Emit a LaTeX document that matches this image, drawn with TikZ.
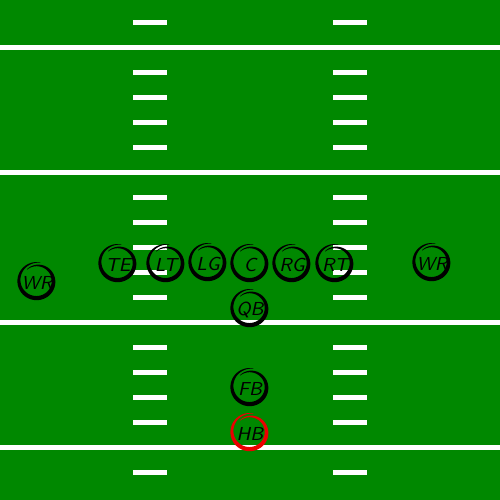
\documentclass[tikz,border=0pt]{standalone}
\usepackage{tikz}
\definecolor{fieldgreen}{RGB}{0,136,0}
\definecolor{hbred}{RGB}{235,0,0}
\tikzset{
  plabel/.style={inner sep=0pt, font=\sffamily\itshape\fontsize{9.4}{9.4}\selectfont, text=black},
  yardline/.style={fill=white},
  hashmark/.style={fill=white},
}
% name, x(px), y(px from top), label, colour
\newcommand{\fbplayer}[5]{%
  \node[plabel] (#1) at (#2,{500-#3}) {#4};
  \begin{scope}[shift={(#1.center)}, shift={(0,2)}]
    \fill[#5] plot[domain=0:1, samples=80, variable=\t]
      ({(16.2*(1.17-0.22*\t)+0.5*(0.4+3.8*sin(180*\t)))*cos(80+410*\t)},
       {(16.0*(1.17-0.22*\t)+0.5*(0.4+3.8*sin(180*\t)))*sin(80+410*\t)})
      -- plot[domain=1:0, samples=80, variable=\t]
      ({(16.2*(1.17-0.22*\t)-0.5*(0.4+3.8*sin(180*\t)))*cos(80+410*\t)},
       {(16.0*(1.17-0.22*\t)-0.5*(0.4+3.8*sin(180*\t)))*sin(80+410*\t)})
      -- cycle;
  \end{scope}
}
\begin{document}
\begin{tikzpicture}[x=0.5pt,y=0.5pt]
\useasboundingbox (0,0) rectangle (500,500);
\fill[fieldgreen] (0,0) rectangle (500,500);
% yard lines (y from top: 45-50, 170-175, 320-325, 445-450)
\foreach \yy in {47.5,172.5,322.5,447.5}{
  \fill[yardline] (0,{500-\yy-2.5}) rectangle (500,{500-\yy+2.5});
}
% hash marks
\foreach \yy in {22.5,72.5,97.5,122.5,147.5,197.5,222.5,247.5,272.5,297.5,347.5,372.5,397.5,422.5,472.5}{
  \fill[hashmark] (133,{500-\yy-2.5}) rectangle (167,{500-\yy+2.5});
  \fill[hashmark] (333,{500-\yy-2.5}) rectangle (367,{500-\yy+2.5});
}
% players
\fbplayer{wrl}{37}{283}{WR}{black}
\fbplayer{te}{118}{265}{TE}{black}
\fbplayer{lt}{166}{265}{LT}{black}
\fbplayer{lg}{208}{264}{LG}{black}
\fbplayer{c}{250}{265}{C}{black}
\fbplayer{rg}{292}{265}{RG}{black}
\fbplayer{rt}{335}{265}{RT}{black}
\fbplayer{wrr}{432}{264}{WR}{black}
\fbplayer{qb}{250}{310}{QB}{black}
\fbplayer{fb}{250}{389}{FB}{black}
\fbplayer{hb}{250}{434}{HB}{hbred}
\end{tikzpicture}
\end{document}
